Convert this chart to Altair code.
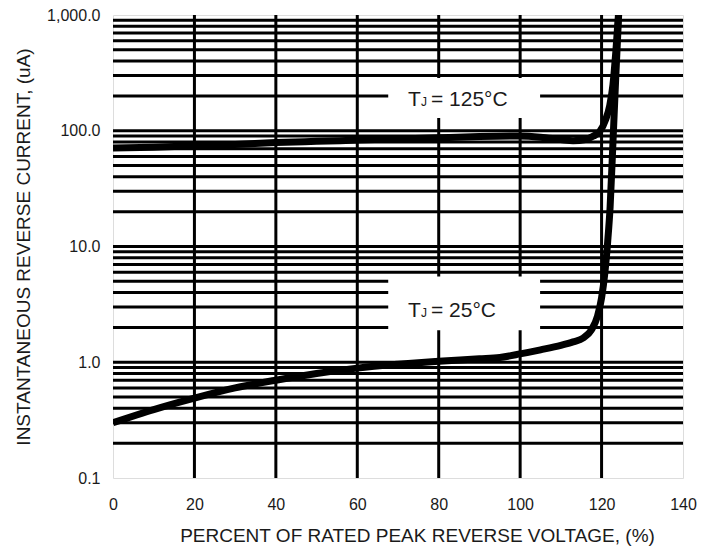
import altair as alt
import pandas as pd

# Curve data
x125 = [0, 10, 20, 30, 40, 50, 60, 70, 80, 90, 100, 105, 110, 113, 116, 118, 119.5, 121, 122, 122.8, 123.5, 124.3]
y125 = [71, 72, 74, 76, 79, 81, 83, 85, 87, 89, 90, 88, 84, 82, 84, 90, 98, 125, 165, 250, 480, 1200]

x25 = [0, 10, 20, 30, 40, 50, 60, 70, 80, 90, 95, 100, 105, 110, 113, 115.5, 117.5, 119, 120, 120.8, 121.5, 122.1, 122.8, 123.5, 124.3]
y25 = [0.3, 0.39, 0.49, 0.6, 0.7, 0.8, 0.89, 0.96, 1.02, 1.07, 1.1, 1.18, 1.28, 1.4, 1.5, 1.62, 1.9, 2.5, 3.6, 5.9, 11, 22, 80, 300, 1200]

# Grid positions
hgrid = [0.2, 0.3, 0.4, 0.5, 0.6, 0.7, 0.8, 0.9, 1, 2, 3, 4, 5, 6, 7, 8, 9, 10,
         20, 30, 40, 50, 60, 70, 80, 90, 100, 200, 300, 400, 500, 600, 700, 800, 900]
vgrid = [20, 40, 60, 80, 100, 120]

xticks = [0, 20, 40, 60, 80, 100, 120, 140]
yticks = [0.1, 1, 10, 100, 1000]

# Label boxes: x0, x1, y0, y1
box_x0 = [67.6, 67.6]
box_x1 = [104.9, 104.9]
box_y0 = [129, 1.89]
box_y1 = [286, 5.5]

lab_x = [72.45, 72.45]
lab_y = [163.7, 2.46]
lab_main = ["T", "T"]
lab_sub = ["J", "J"]
lab_rest = ["= 125°C", "= 25°C"]

FONT = "Liberation Sans"
TXT = "#1a1a1a"

curves = pd.DataFrame({
    "x": x125 + x25,
    "y": y125 + y25,
    "series": ["125"] * len(x125) + ["25"] * len(x25),
})
hg = pd.DataFrame({"y": hgrid})
vg = pd.DataFrame({"x": vgrid})
boxes = pd.DataFrame({"x0": box_x0, "x1": box_x1, "y0": box_y0, "y1": box_y1})
labels = pd.DataFrame({"x": lab_x, "y": lab_y, "t": lab_main, "s": lab_sub, "r": lab_rest})

xscale = alt.Scale(domain=[0, 140], nice=False)
yscale = alt.Scale(type="log", domain=[0.1, 1000], nice=False)

xaxis = alt.Axis(values=xticks, title="PERCENT OF RATED PEAK REVERSE VOLTAGE, (%)",
                 grid=False, ticks=False, domain=False, labelFlush=False,
                 labelPadding=18, titlePadding=14, titleX=304, titleAlign="center",
                 labelFontSize=16, titleFontSize=19, labelFont=FONT, titleFont=FONT,
                 labelColor=TXT, titleColor=TXT, titleFontWeight="normal")
yaxis = alt.Axis(values=yticks, format=",.1f", title="INSTANTANEOUS REVERSE CURRENT, (uA)",
                 grid=False, ticks=False, domain=False, labelFlush=False,
                 labelPadding=13, titlePadding=13,
                 labelFontSize=16, titleFontSize=19, labelFont=FONT, titleFont=FONT,
                 labelColor=TXT, titleColor=TXT, titleFontWeight="normal")

hrules = alt.Chart(hg).mark_rule(color="black", strokeWidth=3).encode(
    y=alt.Y("y:Q", scale=yscale, axis=yaxis))
vrules = alt.Chart(vg).mark_rule(color="black", strokeWidth=3).encode(
    x=alt.X("x:Q", scale=xscale, axis=xaxis))

rects = alt.Chart(boxes).mark_rect(color="white").encode(
    x=alt.X("x0:Q", scale=xscale), x2="x1:Q",
    y=alt.Y("y0:Q", scale=yscale), y2="y1:Q")

lines = alt.Chart(curves).mark_line(color="black", strokeWidth=7, interpolate="monotone",
                                    clip=True, strokeCap="butt").encode(
    x=alt.X("x:Q", scale=xscale),
    y=alt.Y("y:Q", scale=yscale),
    detail="series:N")

t_main = alt.Chart(labels).mark_text(font=FONT, fontSize=21, align="left", baseline="alphabetic",
                                     color=TXT).encode(
    x=alt.X("x:Q", scale=xscale), y=alt.Y("y:Q", scale=yscale), text="t:N")
t_sub = alt.Chart(labels).mark_text(font=FONT, fontSize=12, align="left", baseline="alphabetic",
                                    color=TXT, dx=13).encode(
    x=alt.X("x:Q", scale=xscale), y=alt.Y("y:Q", scale=yscale), text="s:N")
t_rest = alt.Chart(labels).mark_text(font=FONT, fontSize=21, align="left", baseline="alphabetic",
                                     color=TXT, dx=23).encode(
    x=alt.X("x:Q", scale=xscale), y=alt.Y("y:Q", scale=yscale), text="r:N")

chart = alt.layer(hrules, vrules, rects, lines, t_main, t_sub, t_rest).properties(
    width=570, height=463,
    autosize=alt.AutoSizeParams(type="none"),
    padding={"left": 105, "top": 7, "right": 20, "bottom": 70},
).configure_view(stroke="black", strokeWidth=4).configure(background="white")

chart.save("out.html", embed_options={"renderer": "svg", "actions": False})
